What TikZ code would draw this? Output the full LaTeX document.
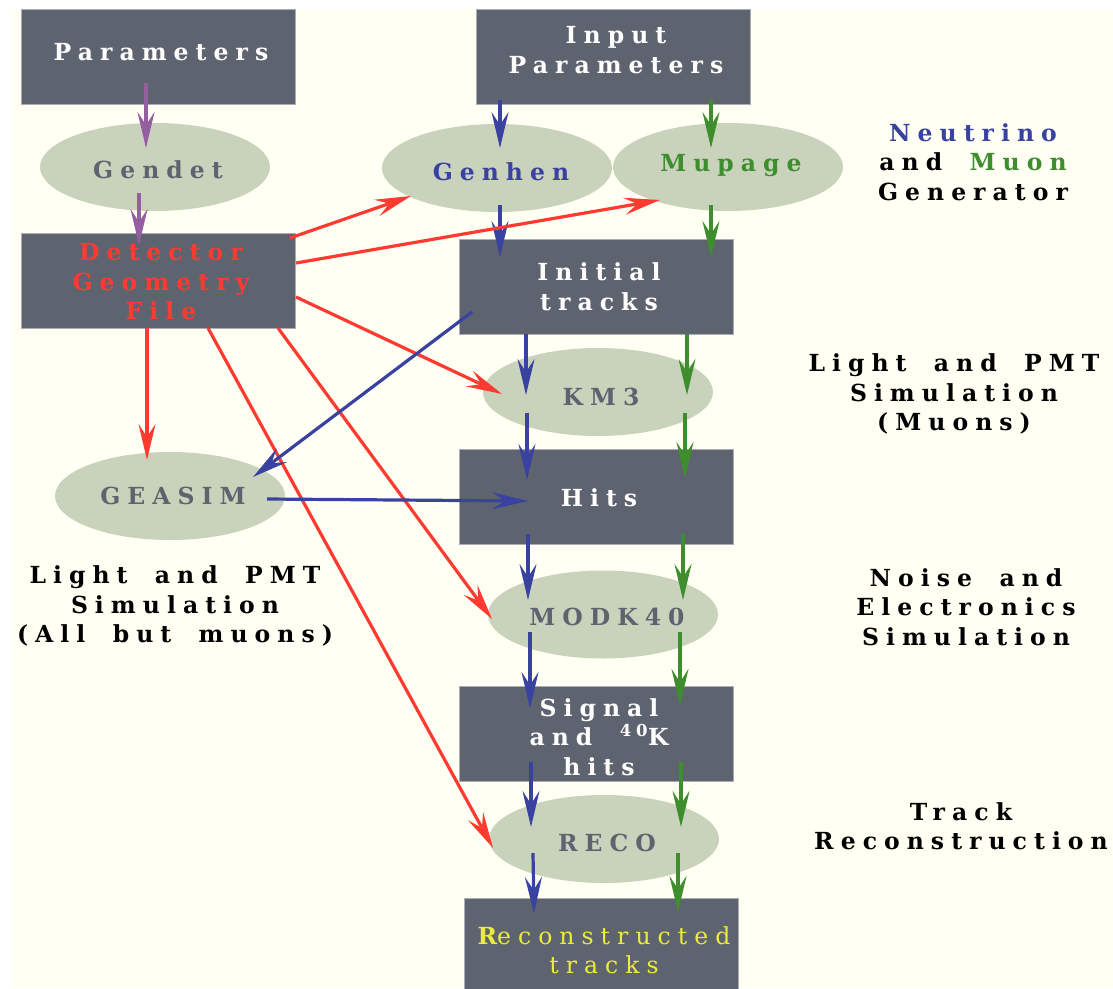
\documentclass[tikz,border=0pt]{standalone}
\usepackage{fontspec}
\usetikzlibrary{arrows.meta,shapes.geometric}
\newfontfamily\dfont{DejaVu Serif}[LetterSpace=30,WordSpace=1.8]
\definecolor{boxc}{RGB}{94,99,112}
\definecolor{boxe}{RGB}{170,173,182}
\definecolor{ellc}{RGB}{201,211,188}
\definecolor{bgc}{RGB}{255,255,244}
\definecolor{redc}{RGB}{255,58,48}
\definecolor{bluec}{RGB}{58,66,160}
\definecolor{greenc}{RGB}{62,142,46}
\definecolor{purc}{RGB}{148,94,160}
\definecolor{yelc}{RGB}{236,236,60}
\begin{document}
\begin{tikzpicture}[x=1pt,y=-1pt,
  box/.style={rectangle,fill=boxc,draw=boxe,line width=0.8pt,inner sep=0pt,minimum width=274pt,minimum height=95pt},
  ell/.style={ellipse,fill=ellc,inner sep=0pt,minimum width=230pt,minimum height=88pt},
  txt/.style={font=\dfont\bfseries\fontsize{23.5}{29.5}\selectfont,align=center,inner sep=0pt},
  arr/.style={line width=3.2pt,-{Stealth[length=36pt,width=17pt,inset=13pt]}},
  parr/.style={arr,draw=purc},
  rarr/.style={arr,draw=redc},
  barr/.style={arr,draw=bluec},
  garr/.style={arr,draw=greenc}
]
\useasboundingbox (0,0) rectangle (1113,988);
\fill[white] (0,0) rectangle (1113,988);
\fill[bgc] (12,9) rectangle (1113,988);

% shapes
\node[box] (par) at (158,56.5) {};
\node[ell] (gendet) at (155,167) {};
\node[box] (det) at (158,280.5) {};
\node[box] (inp) at (613,56.5) {};
\node[ell] (genhen) at (497,168) {};
\node[ell] (mupage) at (728,167) {};
\node[box] (init) at (596,286.5) {};
\node[ell] (km3) at (598,392) {};
\node[box] (hits) at (596,497) {};
\node[ell] (modk) at (603,614.5) {};
\node[box] (sig) at (596,734) {};
\node[ell] (reco) at (604,839) {};
\node[box] (rec) at (601,945.5) {};
\node[ell] (geasim) at (170,496) {};

% texts in shapes
\node[txt,text=white] (tpar) at (161,52) {Parameters};
\node[txt,text=white] (tinp) at (616,50) {Input\\Parameters};
\node[txt,text=boxc] (tgendet) at (158,170) {Gendet};
\node[txt,text=redc] (tdet) at (161,282) {Detector\\Geometry\\File};
\node[txt,text=bluec] (tgenhen) at (501,172) {Genhen};
\node[txt,text=greenc] (tmupage) at (731,166) {Mupage};
\node[txt,text=white] (tinit) at (599,286.5) {Initial\\tracks};
\node[txt,text=boxc] (tkm3) at (601,397) {KM3};
\node[txt,text=white] (thits) at (599,498) {Hits};
\node[txt,text=boxc] (tmodk) at (607,617) {MODK40};
\node[txt,text=white] (tsig) at (599,737) {Signal\\and \textsuperscript{40}K\\hits};
\node[txt,text=boxc] (treco) at (607,843) {RECO};
\node[txt,text=yelc] (trec) at (604,950) {R{\mdseries econstructed}\\{\mdseries tracks}};
\node[txt,text=boxc] (tgeasim) at (173,496) {GEASIM};

% side labels
\node[txt] (lgen) at (973,162) {{\color{bluec}Neutrino}\\and {\color{greenc}Muon}\\Generator};
\node[txt] (llight) at (954,394) {Light and PMT\\Simulation\\(Muons)};
\node[txt] (lall) at (175,606) {Light and PMT\\Simulation\\(All but muons)};
\node[txt] (lnoise) at (966,607) {Noise and\\Electronics\\Simulation};
\node[txt] (ltrack) at (961,826) {Track\\Reconstruction};

% purple
\draw[parr] ([shift={(-12,26.5)}]par.center) -- ([shift={(-9,-19)}]gendet.center);
\draw[parr] ([shift={(-16,26)}]gendet.center) -- ([shift={(-19,-35.5)}]det.center);

% blue / green chain
\draw[barr] ([shift={(-113,43.5)}]inp.center) -- ([shift={(3,-20)}]genhen.center);
\draw[garr] ([shift={(98,43.5)}]inp.center) -- ([shift={(-17,-19)}]mupage.center);
\draw[barr] ([shift={(3,37)}]genhen.center) -- ([shift={(-96,-29.5)}]init.center);
\draw[garr] ([shift={(-17,38)}]mupage.center) -- ([shift={(115,-29.5)}]init.center);
\draw[barr] ([shift={(-70,47.5)}]init.center) -- ([shift={(-72,3)}]km3.center);
\draw[garr] ([shift={(91,47.5)}]init.center) -- ([shift={(89,3)}]km3.center);
\draw[barr] ([shift={(-71,21)}]km3.center) -- ([shift={(-69,-17)}]hits.center);
\draw[garr] ([shift={(87,21)}]km3.center) -- ([shift={(89,-19)}]hits.center);
\draw[barr] ([shift={(-68,37)}]hits.center) -- ([shift={(-75,-14.5)}]modk.center);
\draw[garr] ([shift={(87,37)}]hits.center) -- ([shift={(80,-14.5)}]modk.center);
\draw[barr] ([shift={(-73,17.5)}]modk.center) -- ([shift={(-66,-26)}]sig.center);
\draw[garr] ([shift={(77,17.5)}]modk.center) -- ([shift={(84,-29)}]sig.center);
\draw[barr] ([shift={(-65,28)}]sig.center) -- ([shift={(-73,-12)}]reco.center);
\draw[garr] ([shift={(85,28)}]sig.center) -- ([shift={(77,-12)}]reco.center);
\draw[barr] ([shift={(-71,14)}]reco.center) -- ([shift={(-67,-32.5)}]rec.center);
\draw[garr] ([shift={(74,14)}]reco.center) -- ([shift={(77,-33.5)}]rec.center);

% red from detector geometry file
\draw[rarr] ([shift={(132,-42.5)}]det.center) -- ([shift={(-86,28)}]genhen.center);
\draw[rarr] ([shift={(138,-17.5)}]det.center) -- ([shift={(-68,33)}]mupage.center);
\draw[rarr] ([shift={(138,16.5)}]det.center) -- ([shift={(-96,2)}]km3.center);
\draw[rarr] ([shift={(-11,47.5)}]det.center) -- ([shift={(-23,-36)}]geasim.center);
\draw[rarr] ([shift={(120,47.5)}]det.center) -- ([shift={(-111,4.5)}]modk.center);
\draw[rarr] ([shift={(50,47.5)}]det.center) -- ([shift={(-111,9)}]reco.center);

% blue cross links
\draw[barr] ([shift={(-124,25.5)}]init.center) -- ([shift={(83,-19)}]geasim.center);
\draw[barr] ([shift={(97,3)}]geasim.center) -- ([shift={(-68,4)}]hits.center);
\end{tikzpicture}
\end{document}
